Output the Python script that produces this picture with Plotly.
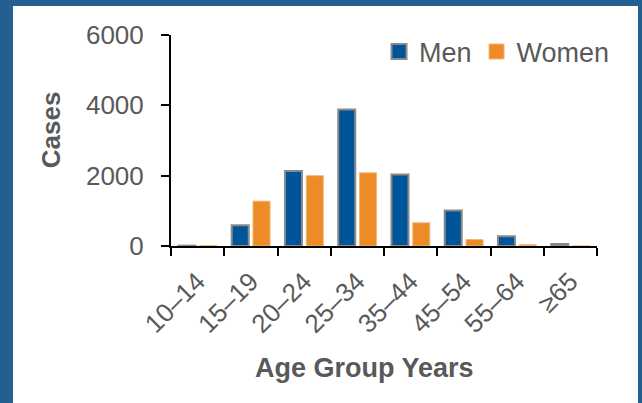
import plotly.graph_objects as go

# Cases by age group and sex
age_groups = ["10–14", "15–19", "20–24", "25–34", "35–44", "45–54", "55–64", "≥65"]
men = [10, 590, 2130, 3880, 2030, 1010, 280, 60]
women = [15, 1275, 2000, 2080, 660, 185, 35, 0]

y_ticks = [0, 2000, 4000, 6000]

FONT = "Liberation Sans, Arial, sans-serif"
TEXT = "#595959"
MEN_BLUE = "#00559a"
WOMEN_ORANGE = "#ed8b26"
FRAME_BLUE = "#245f92"

series = [
    ("Men", men, MEN_BLUE, dict(color="#8a8a8a", width=2)),
    ("Women", women, WOMEN_ORANGE, dict(color="#f3b673", width=1)),
]

fig = go.Figure()
for name, vals, color, outline in series:
    fig.add_trace(go.Bar(
        name=name, x=age_groups, y=vals, legendgroup=name, showlegend=False,
        marker=dict(color=color, line=outline),
    ))
# square legend swatches, slightly larger than the default bar icon
for name, vals, color, outline in series:
    fig.add_trace(go.Scatter(
        name=name, x=[None], y=[None], mode="markers", legendgroup=name,
        marker=dict(symbol="square", size=15, color=color, line=outline),
    ))

L, R, T, B = 171, 45, 35, 156.5
W, H = 642, 403
pw, ph = W - L - R, H - T - B

def px_x(x):
    return (x - L) / pw

def px_y(y):
    return (H - B - y) / ph

fig.update_layout(
    width=W, height=H,
    margin=dict(l=L, r=R, t=T, b=B, pad=0),
    paper_bgcolor=FRAME_BLUE,
    plot_bgcolor="rgba(0,0,0,0)",
    barmode="group",
    bargap=0.2,
    bargroupgap=0.2,
    font=dict(family=FONT, color=TEXT, size=26),
    showlegend=True,
    legend=dict(
        orientation="h",
        x=px_x(615), xanchor="right",
        y=px_y(52), yanchor="middle",
        font=dict(size=27, color=TEXT),
        bgcolor="rgba(0,0,0,0)",
        itemwidth=30,
    ),
    xaxis=dict(
        showline=True, linecolor="black", linewidth=2,
        ticks="outside", ticklen=8, tickwidth=2, tickcolor="black",
        tickson="boundaries",
        tickangle=-45,
        tickfont=dict(size=26, color=TEXT),
        ticklabelstandoff=8,
        showgrid=False, zeroline=False,
    ),
    yaxis=dict(
        range=[0, 6000], tickvals=y_ticks,
        showline=True, linecolor="black", linewidth=2,
        ticks="outside", ticklen=8, tickwidth=2, tickcolor="black",
        tickfont=dict(size=26, color=TEXT),
        ticklabelstandoff=12,
        showgrid=False, zeroline=False,
    ),
    shapes=[dict(
        type="rect", xref="paper", yref="paper", layer="below",
        x0=px_x(13), x1=px_x(638), y0=px_y(6), y1=px_y(410),
        fillcolor="white", line=dict(width=0),
    )],
    annotations=[
        dict(text="<b>Cases</b>", xref="paper", yref="paper",
             x=px_x(51), y=px_y(130.5), xanchor="center", yanchor="middle",
             textangle=-90, showarrow=False, font=dict(size=26, color=TEXT)),
        dict(text="<b>Age Group Years</b>", xref="paper", yref="paper",
             x=px_x(364), y=px_y(369), xanchor="center", yanchor="middle",
             showarrow=False, font=dict(size=27, color=TEXT)),
    ],
)

fig.write_html("out.html")
